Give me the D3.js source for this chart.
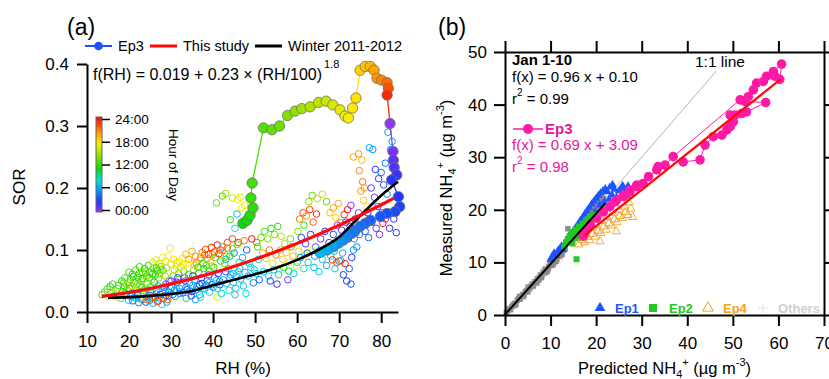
<!DOCTYPE html>
<html><head><meta charset="utf-8">
<script src="https://cdn.jsdelivr.net/npm/d3@7"></script>
<style>
body{margin:0;background:#fff}
svg{display:block;font-family:"Liberation Sans",Arial,Helvetica,sans-serif}
</style></head><body>
<svg id="chart" width="829" height="379"></svg>
<script>
// ---------- Panel (a): SOR vs RH ----------
// Hourly observations, Jan 1-10: [RH %, SOR, hour of day]
const hourlyObs = [
 [13.6,0.028,12],[14.2,0.032,13],[14.8,0.037,12.5],[15.5,0.041,11],[15.9,0.030,14],[16.4,0.026,9],[16.8,0.034,15],[17.3,0.038,13],[17.7,0.029,16],[18.1,0.022,8],
 [18.5,0.033,12],[18.9,0.041,11.5],[19.3,0.027,17],[19.6,0.036,14],[19.9,0.019,7],[16.1,0.045,12],[17.0,0.024,17.5],[18.7,0.047,13],[15.0,0.025,16.5],[19.1,0.031,10],
 [20.3,0.052,12],[20.8,0.061,11.5],[21.2,0.047,13],[21.6,0.068,12.5],[22.1,0.056,11],[22.5,0.073,12],[22.9,0.050,14],[23.3,0.063,12],[23.7,0.070,11],[24.2,0.058,13],
 [24.6,0.075,12.5],[25.0,0.064,11.8],[25.4,0.052,14.5],[25.8,0.071,13.2],[26.3,0.060,12.2],[26.7,0.067,10.8],[27.1,0.055,13.8],[27.5,0.073,12.8],[20.6,0.041,13.5],[21.9,0.044,14.2],
 [23.0,0.040,10.5],[24.4,0.045,15],[26.0,0.048,11.2],
 [20.4,0.025,6],[20.9,0.018,4],[21.4,0.030,17],[21.8,0.022,8],[22.3,0.015,5],[22.7,0.028,19],[23.1,0.020,22],[23.6,0.034,7],[24.0,0.016,3],[24.5,0.026,21],
 [24.9,0.019,23],[25.3,0.031,20],[25.7,0.014,6.5],[26.2,0.024,22.5],[26.6,0.035,5.5],[27.0,0.018,20.5],[27.4,0.028,2],[27.8,0.012,7.5],[28.2,0.022,0.5],[28.6,0.033,4.5],
 [29.0,0.016,6],[29.4,0.026,3.5],[29.8,0.038,8],[21.1,0.036,16],[22.0,0.033,18],[23.4,0.027,16.5],[25.1,0.040,9],[26.9,0.042,6],[28.4,0.040,1],
 [25.6,0.080,16.5],[26.4,0.084,17],[27.2,0.078,16],[28.0,0.088,17.5],[28.7,0.082,16.8],[29.4,0.090,17.2],[30.0,0.077,16.2],[30.6,0.085,17.8],[29.8,0.103,17],[31.3,0.079,18.3],
 [27.6,0.069,15.5],[28.9,0.071,14.8],
 [28.8,0.045,1],[29.5,0.050,0.5],[30.2,0.040,3],[30.8,0.035,5],[31.4,0.048,2.5],[32.0,0.030,4],[32.6,0.042,6],[33.2,0.055,1.5],[33.8,0.036,3.5],[34.4,0.047,5.5],
 [35.0,0.033,2],[35.6,0.052,7],[36.2,0.041,4.5],[36.8,0.028,6.5],[37.4,0.046,3],[38.0,0.037,8],[38.6,0.050,5],[39.2,0.032,7.5],[39.8,0.044,2],[40.4,0.055,6],
 [41.0,0.038,8.5],[41.6,0.049,4],[30.5,0.058,13],[31.8,0.062,12],[33.0,0.066,14],[34.2,0.060,11.5],[35.4,0.068,13.5],[36.6,0.063,12.2],[37.8,0.070,10.5],[39.0,0.066,12.8],
 [40.2,0.072,11.2],[38.4,0.075,13],[31.0,0.025,7],[33.6,0.022,9],[35.8,0.020,6],[37.0,0.024,8],[34.8,0.026,2],[41.0,0.024,17],
 [31.2,0.074,17],[32.0,0.081,16.5],[32.8,0.087,17.5],[33.5,0.093,19],[34.2,0.085,20],[35.0,0.098,19.5],[35.8,0.090,20.5],[36.6,0.084,18.5],[37.4,0.096,21],[38.2,0.101,22],
 [38.9,0.093,23],[39.6,0.104,22.5],[40.3,0.097,21.5],[41.0,0.108,23.5],[41.7,0.100,22],[33.0,0.077,18],[36.0,0.079,21],[38.6,0.086,20],[40.6,0.088,12.5],[39.4,0.080,19],
 [40.8,0.176,13],[42.2,0.187,12.5],[43.0,0.191,14],[44.6,0.184,16],[45.8,0.181,17],[46.5,0.185,16.5],[44.1,0.149,12],[45.2,0.135,8],[45.7,0.158,7],[46.8,0.168,17.2],
 [47.5,0.172,16.8],
 [42.3,0.105,7],[43.0,0.085,6],[43.6,0.070,8],[44.2,0.060,7.5],[44.8,0.048,6.5],[45.4,0.038,7],[46.0,0.065,8],[46.6,0.053,6],[47.2,0.042,7.2],[47.8,0.030,7.8],
 [48.4,0.058,6.8],[49.0,0.072,7.4],[49.6,0.047,5],[50.2,0.062,8.2],[50.8,0.085,7],[47.0,0.088,6.2],[45.0,0.095,5.5],[48.0,0.100,4],[43.4,0.112,22],[44.6,0.118,22.5],
 [46.0,0.112,23],[47.4,0.115,21],[49.2,0.118,23.5],[50.4,0.112,22],[42.8,0.078,13],[44.0,0.090,11],[46.2,0.080,9],
 [50.6,0.105,12],[51.4,0.120,13],[52.2,0.130,12.5],[53.0,0.118,14],[53.8,0.135,11.5],[54.6,0.125,13.5],[55.4,0.138,12],[56.2,0.122,15],[57.0,0.110,14.5],[51.8,0.095,20],
 [52.6,0.086,19],[53.4,0.100,21],[54.2,0.078,18],[55.0,0.092,20.5],[55.8,0.070,17],[56.6,0.085,18.5],[57.4,0.096,16],[58.2,0.080,17.5],[59.0,0.090,19],[59.8,0.074,16.5],
 [52.0,0.065,7],[53.2,0.058,8],[54.4,0.068,6.5],[55.6,0.060,9],[56.8,0.072,10],[58.0,0.066,11],[59.2,0.062,7.5],[60.0,0.080,8.5],[51.0,0.052,4],[53.6,0.050,3],
 [55.2,0.045,2],[57.8,0.052,1],
 [60.6,0.150,21],[61.4,0.160,22],[62.2,0.155,20],[63.0,0.165,22.5],[63.8,0.145,21.5],[64.6,0.158,23],[62.8,0.178,14],[63.6,0.188,13],[64.8,0.183,15],[66.0,0.190,16],
 [67.0,0.178,12.5],[61.0,0.120,3],[62.0,0.110,1],[63.2,0.125,2],[64.4,0.105,4],[65.6,0.118,0.5],[66.6,0.130,2.5],[67.6,0.112,1.5],[68.6,0.125,3],[69.6,0.140,0],
 [70.6,0.132,1],[71.6,0.145,2],[72.6,0.138,0.8],[66.0,0.085,7],[67.0,0.075,6],[68.0,0.090,8],[69.0,0.070,7],[70.0,0.082,5.5],[61.6,0.070,8],[62.6,0.080,9],
 [64.0,0.072,6.5],[65.2,0.065,7.5],[68.4,0.084,23],[69.4,0.080,22],[70.4,0.083,21.5],[71.4,0.078,23.5],[71.0,0.060,3],[71.8,0.050,2.5],[72.4,0.070,4],[72.8,0.045,3.5],
 [73.0,0.088,2],[67.8,0.160,19],[68.6,0.168,20],[69.2,0.152,18.5],[69.8,0.175,19.5],[70.4,0.144,20.5],[73.6,0.118,6],[74.2,0.105,5],[74.8,0.125,4.5],[73.8,0.150,1],
 [74.6,0.160,0.3],[72.0,0.165,23.8],[71.2,0.157,22.8],[72.8,0.172,0.2],
 [73.4,0.250,19.5],[74.6,0.255,20],[75.4,0.245,19],[74.8,0.228,20.5],[75.6,0.210,21],[75.2,0.195,20.2],[76.0,0.200,19.8],[75.8,0.180,18.6],[76.6,0.170,17.5],[77.2,0.265,6],
 [78.0,0.262,5.5],[81.6,0.290,6],[82.6,0.275,5.8],[82.2,0.262,6.3],[78.6,0.230,3],[79.4,0.215,2],[80.0,0.225,4],[80.6,0.205,3.5],[81.0,0.240,4.5],[81.4,0.190,5],
 [77.6,0.200,1],[78.4,0.185,0.5],[79.2,0.170,1.5],[80.2,0.160,0.8],[81.0,0.150,0.2],[76.8,0.160,2.5],[77.8,0.145,3],[78.8,0.135,1.2],[79.6,0.125,0.6],[80.4,0.143,23.8],
 [82.0,0.135,2.2],[83.0,0.150,1.8],[83.6,0.128,2.7],[76.2,0.130,3.5],[77.0,0.120,4.2],
 [17.5,0.043,12.3],[18.3,0.050,11.7],[19.0,0.055,12.9],[19.8,0.047,13.4],[20.0,0.064,12.1],[21.0,0.057,11.3],[21.5,0.050,13.7],[22.4,0.062,12.6],[23.2,0.054,11.1],[23.9,0.065,13.9],
 [24.8,0.055,12.4],[25.6,0.061,10.9],[26.5,0.071,11.6],[27.3,0.062,13.1],[28.1,0.067,12.0],[28.6,0.058,14.1],[19.4,0.044,14.6],[20.1,0.038,11.9],[22.6,0.043,12.8],[24.0,0.038,13.6],
 [20.7,0.030,5.2],[21.3,0.024,6.8],[22.0,0.027,4.2],[22.8,0.021,7.2],[23.5,0.030,5.8],[24.3,0.023,6.4],[25.0,0.027,3.8],[25.8,0.020,7.8],[26.5,0.029,4.8],[27.2,0.023,6.2],
 [28.0,0.031,5.4],[28.8,0.027,3.2],[29.6,0.032,6.6],[30.4,0.028,4.4],[31.2,0.034,7.4],[32.0,0.038,5.6],[32.8,0.031,3.6],[33.6,0.040,6.0],[34.4,0.034,4.6],[35.2,0.043,7.0],
 [36.0,0.036,5.0],[36.8,0.044,3.4],[37.6,0.038,6.4],[38.4,0.043,4.0],[39.2,0.048,6.8],[40.0,0.040,5.2],[40.8,0.051,7.6],[41.6,0.044,3.0],[42.4,0.052,6.2],[43.2,0.046,7.0],
 [44.0,0.055,5.8],[44.8,0.062,6.6],[45.6,0.058,7.4],[46.4,0.070,6.0],[43.8,0.035,8.0],[42.0,0.030,7.8],[45.2,0.028,7.3],[47.6,0.064,6.4],[48.6,0.078,7.6],[49.8,0.068,6.9],
 [24.2,0.020,20.8],[25.5,0.024,21.8],[26.8,0.017,22.8],[28.0,0.026,19.6],[29.2,0.020,21.2],
 [30.0,0.050,0.8],[31.6,0.055,1.8],[33.4,0.050,0.2],[35.2,0.058,2.8],[37.2,0.055,1.4],[39.0,0.060,0.6],[41.2,0.062,2.2],[43.0,0.065,1.0],
 [30.8,0.068,15.8],[32.4,0.072,16.8],[34.0,0.078,17.6],[35.6,0.075,18.8],[37.0,0.088,19.8],[38.0,0.092,21.8],[39.8,0.092,20.8],[41.4,0.094,22.8],[42.2,0.099,20.2],[43.4,0.103,21.4],
 [36.4,0.072,12.6],[37.6,0.078,11.6],[39.6,0.074,13.6],[41.8,0.082,12.2],[43.2,0.090,13.2],[44.6,0.102,12.8],[45.8,0.109,13.6],
 [56.0,0.100,19.8],[58.6,0.105,20.8],[60.4,0.098,15.6],[61.8,0.092,16.6],[63.4,0.100,17.6],[65.0,0.095,18.4],[66.4,0.102,14.6],[58.4,0.118,13.6],[60.2,0.130,14.2],[61.6,0.140,12.4],
 [60.8,0.088,5.6],[62.4,0.095,4.6],[64.2,0.090,5.2],[66.2,0.098,4.8],[68.2,0.105,3.8],[70.2,0.110,3.2],[72.2,0.118,2.6],[74.0,0.128,2.0],[75.6,0.140,1.6],[73.4,0.100,5.4],
 [70.8,0.095,6.4],[68.8,0.098,6.8]
];

// Episode 3 trajectory in time order: [RH %, SOR, hour of day]
const ep3Track = [
 [47.1,0.143,11.0],[48.1,0.148,11.3],[48.8,0.156,11.6],[49.5,0.168,11.9],[49.0,0.184,12.2],[49.3,0.208,12.5],
 [52.0,0.297,12.8],[54.0,0.294,13.1],[55.8,0.300,13.4],[57.7,0.317,13.8],[59.5,0.324,14.2],[61.1,0.328,14.6],
 [63.1,0.331,15.0],[65.1,0.338,15.4],[66.9,0.340,15.8],[68.5,0.334,16.2],[70.2,0.326,16.6],[71.4,0.316,17.0],
 [72.2,0.313,17.3],[73.2,0.329,17.6],[74.0,0.345,17.9],[75.0,0.390,18.3],[76.2,0.396,18.7],[77.4,0.396,19.1],
 [78.3,0.390,19.5],[79.0,0.377,20.0],[80.1,0.374,20.6],[81.4,0.370,21.3],[81.7,0.361,22.0],[81.4,0.350,23.0],
 [82.1,0.304,0.2],[82.8,0.259,0.8],[82.9,0.245,1.2],[83.1,0.233,1.6],[83.7,0.221,2.0],[82.5,0.213,2.3],
 [84.1,0.186,2.6],[84.4,0.170,2.9],[83.3,0.162,3.2],[81.4,0.159,3.4],[79.8,0.154,3.6],[77.4,0.148,3.8],
 [76.2,0.143,4.0],[75.0,0.138,4.2],[73.8,0.132,4.4],[73.0,0.127,4.6],[71.8,0.121,4.9],[71.0,0.116,5.2],
 [69.8,0.111,5.5],[68.6,0.105,5.8],[67.1,0.100,6.2],[65.5,0.096,6.6]
];

// Winter 2011-2012 parameterisation: [RH %, SOR]
const winterCurve = [
 [15,0.023],[20,0.024],[25,0.026],[30,0.029],[35,0.034],[40,0.043],[45,0.052],[50,0.061],
 [55,0.071],[60,0.084],[65,0.100],[70,0.121],[75,0.155],[80,0.188],[84,0.210]
];

// This study: f(RH) = a + b * (RH/100)^c
const fitA = 0.019, fitB = 0.23, fitC = 1.8;
const fitRange = [13.5, 83];

const xTicksA = [10, 20, 30, 40, 50, 60, 70, 80];
const yTicksA = [0.0, 0.1, 0.2, 0.3, 0.4];
const hourTicks = [0, 6, 12, 18, 24];
const hourLabels = ["00:00", "06:00", "12:00", "18:00", "24:00"];

// ---------- Panel (b): measured vs predicted NH4+ ----------
// Jan 1-10, all hours: [predicted, measured]
const janAll = [
 [0.3,0.5],[0.6,0.8],[0.9,1.2],[1.2,1.0],[1.5,1.6],[1.8,1.9],[2.1,2.2],[2.4,2.1],[2.7,2.8],[3.0,3.1],
 [3.3,3.0],[3.6,3.6],[3.9,3.9],[4.2,3.8],[4.5,4.4],[4.8,4.7],[5.1,5.3],[5.4,5.0],[5.7,5.4],[6.0,5.9],
 [6.3,5.8],[6.6,6.3],[6.9,6.4],[7.2,6.9],[7.5,7.0],[7.8,7.6],[8.1,7.5],[8.4,8.1],[8.7,8.0],[9.0,8.6],
 [9.3,8.5],[9.6,9.2],[9.9,9.8],[10.2,9.4],[10.5,10.4],[10.8,10.1],[11.1,11.0],[11.4,10.6],[11.7,11.6],[12.0,11.2],
 [12.3,12.4],[12.6,12.0],[12.9,13.1],[13.2,12.6],[13.5,13.8],[13.8,16.4],[14.1,14.2],[14.4,15.3],[14.7,14.6],[15.0,15.8],
 [15.3,15.0],[15.6,16.3],[15.9,15.5],[16.2,16.9],[16.5,16.0],[16.8,17.4],[17.1,16.8],[17.4,18.0],[17.7,17.2],[18.0,18.6],
 [18.3,19.2],[18.6,18.0],[18.9,19.8],[19.2,20.3],[19.5,19.4],[19.8,20.8],[20.1,21.5],[20.4,20.2],[20.7,21.8],[21.0,22.4],
 [21.3,21.0],[21.6,22.2],[7.0,6.1],[8.0,7.1],[9.5,8.8],[10.6,9.6],[6.2,5.5],[4.0,3.5],[3.2,3.5],[12.5,11.5],
 [2.2,1.8],[5.0,4.4],[7.4,6.6],[9.2,8.2],[11.2,10.2],[8.8,8.7],[10.0,10.3],[11.8,12.0]
];
const others = [
 [0.2,0.3],[0.5,0.4],[0.8,0.9],[1.1,1.3],[1.4,1.2],[1.7,1.9],[2.0,2.3],[2.5,2.4],[3.0,3.3],[3.5,3.4],
 [4.0,4.3],[4.6,4.5],[5.2,5.6],[5.8,5.7],[6.4,6.8],[7.0,7.2],[7.8,8.1],[8.6,8.8],[9.4,9.7],[10.2,10.4],
 [11.0,11.3],[12.0,11.8],[13.0,13.4],[12.5,10.9],[11.5,9.9]
];
const ep1 = [
 [10.0,10.6],[10.4,11.2],[10.8,11.8],[11.2,11.3],[11.6,12.2],[12.0,12.6],[12.4,13.1],[12.8,12.4],[13.2,13.6],[13.6,14.2],
 [14.0,14.8],[14.5,15.3],[15.0,15.9],[15.5,16.6],[16.0,17.2],[16.5,17.9],[17.0,18.5],[17.5,19.2],[18.0,19.8],[18.5,20.4],
 [19.0,21.1],[19.5,21.6],[20.0,22.2],[20.5,22.7],[21.0,23.2],[21.5,23.6],[22.0,24.0],[22.5,23.4],[23.0,24.3],[23.5,22.8],
 [24.0,23.9],[24.5,22.4],[25.0,23.6],[25.5,24.1],[26.0,23.0],[26.5,23.8],[27.0,24.5],[27.4,23.3],[22.8,22.0],[24.2,21.8],
 [21.8,21.5],[20.8,20.9],[19.8,19.6],[23.6,24.8],[25.8,24.6],[26.8,22.6]
];
const ep2 = [
 [13.4,13.8],[13.8,14.5],[14.2,15.0],[14.6,15.6],[15.0,14.8],[15.4,16.2],[15.8,15.4],[16.2,16.8],[16.6,16.0],[17.0,17.4],
 [17.4,16.6],[17.8,18.0],[18.2,17.2],[18.6,18.6],[19.0,17.8],[19.4,19.0],[19.8,18.2],[14.8,13.6],[16.0,14.6],[17.2,15.4],
 [15.7,10.6],[13.0,13.0],[18.4,16.4]
];
const ep4 = [
 [16.2,13.4],[16.8,14.2],[17.4,13.8],[18.0,14.8],[18.6,14.2],[19.2,15.4],[19.8,14.9],[20.4,16.0],[21.0,15.6],[21.6,16.8],
 [22.2,16.2],[22.8,17.4],[23.4,17.0],[24.0,18.2],[24.6,17.6],[25.2,18.8],[25.8,18.4],[26.4,19.6],[27.0,19.0],[27.6,20.2],
 [26.2,20.6],[25.0,20.0],[23.6,19.4],[22.4,18.6],[21.2,17.9],[20.0,17.2],[18.8,16.5],[17.6,15.8],[24.4,15.9],[20.8,14.0],
 [27.2,21.4],[28.0,18.6]
];
// Episode 3 in time order
const ep3 = [
 [17.2,15.0],[17.6,15.8],[18.7,17.1],[20.1,18.4],[21.6,19.6],[23.0,20.6],[24.1,21.5],[24.5,21.9],[26.0,22.5],[26.0,22.8],
 [27.4,23.4],[27.4,23.8],[28.9,24.4],[28.9,24.7],[30.3,25.0],[31.5,26.3],[33.3,27.6],[33.6,28.2],[35.1,28.5],[36.9,30.1],
 [58.9,46.3],[60.7,47.7],[60.3,44.8],[59.2,45.4],[57.4,45.4],[56.7,44.4],[55.2,44.1],[54.5,42.8],[53.4,41.5],[51.6,40.9],
 [52.7,40.6],[57.2,40.4],[53.0,38.6],[51.9,38.3],[50.5,38.0],[49.4,38.0],[50.1,36.7],[49.4,35.8],[48.7,35.2],[47.6,34.2],
 [45.7,33.9],[43.9,32.3],[42.8,29.5],[39.1,29.1]
];
// Linear fits: slope, intercept, r², x-extent
const fitJan = {slope: 0.96, icept: 0.10, r2: 0.99, from: 0, to: 22};
const fitEp3 = {slope: 0.69, icept: 3.09, r2: 0.98, from: 17.5, to: 60.5};

const xTicksB = [0, 10, 20, 30, 40, 50, 60, 70];
const yTicksB = [0, 10, 20, 30, 40, 50];

// ---------- drawing ----------
const svg = d3.select("#chart");
const PINK = "#ff1aa6", PINK_TXT = "#e3189c";
const C_EP1 = "#1f55ff", C_EP2 = "#22c922", C_EP4 = "#f3a322", C_OTH = "#cfcfcf";

const hourColor = d3.scaleLinear()
  .domain([0, 2.5, 5.5, 8, 11, 14.5, 17.5, 20.5, 24])
  .range(["#9933ff", "#2233ff", "#0099ff", "#00e0e0", "#00e000", "#a0e000", "#ffee00", "#ff8800", "#ff0000"])
  .clamp(true);

function styleAxis(g, fs) {
  g.attr("font-family", null).attr("font-size", null);
  g.selectAll("path, line").attr("stroke", "#000").attr("stroke-width", 2);
  g.selectAll("text").attr("fill", "#000").style("font-size", fs + "px");
}

// ---- Panel (a)
const xA = d3.scaleLinear().domain([10, 84]).range([87, 398]);
const yA = d3.scaleLinear().domain([0, 0.4]).range([312, 64]);

const gA = svg.append("g");

// hourly observation circles
gA.append("g").selectAll("circle").data(hourlyObs).join("circle")
  .attr("cx", d => xA(d[0])).attr("cy", d => yA(d[1])).attr("r", 3.3)
  .attr("fill", "none").attr("stroke", d => hourColor(d[2])).attr("stroke-width", 1);

// Episode 3 path, each leg coloured by its starting hour
const ep3Legs = d3.pairs(ep3Track);
gA.append("g").selectAll("line").data(ep3Legs).join("line")
  .attr("x1", d => xA(d[0][0])).attr("y1", d => yA(d[0][1]))
  .attr("x2", d => xA(d[1][0])).attr("y2", d => yA(d[1][1]))
  .attr("stroke", d => hourColor(d[0][2])).attr("stroke-width", 1.3);
gA.append("g").selectAll("circle").data(ep3Track).join("circle")
  .attr("cx", d => xA(d[0])).attr("cy", d => yA(d[1])).attr("r", 5.2)
  .attr("fill", d => hourColor(d[2])).attr("stroke", "#707070").attr("stroke-width", 0.8);

// fitted curves
const fitRH = d3.range(fitRange[0], fitRange[1] + 0.01, 0.5);
const fitPts = fitRH.map(rh => [rh, fitA + fitB * Math.pow(rh / 100, fitC)]);
const lineA = d3.line().x(d => xA(d[0])).y(d => yA(d[1]));
gA.append("path").datum(winterCurve).attr("d", lineA.curve(d3.curveMonotoneX))
  .attr("fill", "none").attr("stroke", "#000").attr("stroke-width", 2.6);
gA.append("path").datum(fitPts).attr("d", d3.line().x(d => xA(d[0])).y(d => yA(d[1])))
  .attr("fill", "none").attr("stroke", "#ff0a0a").attr("stroke-width", 3.2);

// axes
gA.append("g").attr("transform", "translate(0,312)")
  .call(d3.axisBottom(xA).tickValues(xTicksA).tickSizeInner(11).tickSizeOuter(0).tickPadding(12))
  .call(g => styleAxis(g, 17));
gA.append("g").attr("transform", "translate(87,0)")
  .call(d3.axisLeft(yA).tickValues(yTicksA).tickFormat(d3.format(".1f")).tickSizeInner(10).tickSizeOuter(0).tickPadding(8))
  .call(g => styleAxis(g, 17));

gA.append("text").attr("x", 243).attr("y", 374).attr("text-anchor", "middle")
  .style("font-size", "17px").text("RH (%)");
gA.append("text").attr("transform", "translate(25,187) rotate(-90)").attr("text-anchor", "middle")
  .style("font-size", "17px").text("SOR");
gA.append("text").attr("x", 67).attr("y", 35).style("font-size", "23px").text("(a)");

// legend
const legA = gA.append("g").style("font-size", "14.5px");
legA.append("line").attr("x1", 85).attr("x2", 112).attr("y1", 46).attr("y2", 46)
  .attr("stroke", "#1f4fff").attr("stroke-width", 2);
legA.append("circle").attr("cx", 98.5).attr("cy", 46).attr("r", 4.3).attr("fill", "#1f4fff");
legA.append("text").attr("x", 118).attr("y", 51).text("Ep3");
legA.append("line").attr("x1", 150).attr("x2", 177).attr("y1", 46).attr("y2", 46)
  .attr("stroke", "#ff0a0a").attr("stroke-width", 3);
legA.append("text").attr("x", 183).attr("y", 51).text("This study");
legA.append("line").attr("x1", 255).attr("x2", 282).attr("y1", 46).attr("y2", 46)
  .attr("stroke", "#000").attr("stroke-width", 3);
legA.append("text").attr("x", 288).attr("y", 51).text("Winter 2011-2012");

// formula
const fmt = gA.append("text").attr("x", 93).attr("y", 80).style("font-size", "16px");
fmt.append("tspan").text(`f(RH) = ${fitA} + ${fitB} × (RH/100)`);
fmt.append("tspan").attr("dy", -12).attr("dx", 2).style("font-size", "11px").text(fitC.toFixed(1));

// hour-of-day colour bar
const cbY = d3.scaleLinear().domain([0, 24]).range([210, 119]);
const grad = svg.append("defs").append("linearGradient").attr("id", "hourGrad")
  .attr("x1", 0).attr("y1", 1).attr("x2", 0).attr("y2", 0);
d3.range(0, 24.01, 1).forEach(h => grad.append("stop")
  .attr("offset", h / 24).attr("stop-color", hourColor(h)));
gA.append("rect").attr("x", 96).attr("y", cbY(24) - 2).attr("width", 6)
  .attr("height", cbY(0) - cbY(24) + 4).attr("fill", "url(#hourGrad)")
  .attr("stroke", "#666").attr("stroke-width", 1);
gA.append("g").attr("transform", "translate(102,0)")
  .call(d3.axisRight(cbY).tickValues(hourTicks).tickFormat((d, i) => hourLabels[i])
    .tickSizeInner(8).tickSizeOuter(0).tickPadding(5))
  .call(g => { styleAxis(g, 13.5); g.select(".domain").remove();
               g.selectAll("line").attr("stroke-width", 1.5); });
gA.append("text").attr("transform", "translate(169,129) rotate(90)")
  .style("font-size", "13.5px").text("Hour of Day");

// ---- Panel (b)
const xB = d3.scaleLinear().domain([0, 70]).range([505, 824]);
const yB = d3.scaleLinear().domain([0, 50]).range([315, 52]);
const gB = svg.append("g");

// 1:1 reference
gB.append("line").attr("x1", xB(0)).attr("y1", yB(0)).attr("x2", xB(50)).attr("y2", yB(50))
  .attr("stroke", "#b4b4b4").attr("stroke-width", 1);

const plus = "M-3.5,0H3.5M0,-3.5V3.5";
gB.append("g").selectAll("path").data(others).join("path")
  .attr("transform", d => `translate(${xB(d[0])},${yB(d[1])})`).attr("d", plus)
  .attr("stroke", "#dedede").attr("stroke-width", 1).attr("fill", "none");
gB.append("g").selectAll("path").data(janAll).join("path")
  .attr("transform", d => `translate(${xB(d[0])},${yB(d[1])})`)
  .attr("d", d3.symbol(d3.symbolSquare, 30)).attr("fill", "#8c8c8c");
gB.append("g").selectAll("path").data(ep1).join("path")
  .attr("transform", d => `translate(${xB(d[0])},${yB(d[1])})`)
  .attr("d", d3.symbol(d3.symbolTriangle, 30)).attr("fill", C_EP1);
gB.append("g").selectAll("path").data(ep2).join("path")
  .attr("transform", d => `translate(${xB(d[0])},${yB(d[1])})`)
  .attr("d", d3.symbol(d3.symbolSquare, 36)).attr("fill", C_EP2);
gB.append("g").selectAll("path").data(ep4).join("path")
  .attr("transform", d => `translate(${xB(d[0])},${yB(d[1])})`)
  .attr("d", d3.symbol(d3.symbolTriangle, 30)).attr("fill", "none")
  .attr("stroke", C_EP4).attr("stroke-width", 0.9);

const lineB = d3.line().x(d => xB(d[0])).y(d => yB(d[1]));
gB.append("path").datum(ep3).attr("d", lineB).attr("fill", "none")
  .attr("stroke", PINK).attr("stroke-width", 1);
gB.append("g").selectAll("circle").data(ep3).join("circle")
  .attr("cx", d => xB(d[0])).attr("cy", d => yB(d[1])).attr("r", 4.8).attr("fill", PINK);

// fit lines
[[fitJan, "#000", 2], [fitEp3, "#ff0a0a", 2.2]].forEach(([f, c, w]) => {
  gB.append("path").datum([f.from, f.to].map(x => [x, f.slope * x + f.icept]))
    .attr("d", lineB).attr("stroke", c).attr("stroke-width", w).attr("fill", "none");
});

// axes / frame
gB.append("g").attr("transform", "translate(0,315)")
  .call(d3.axisBottom(xB).tickValues(xTicksB).tickSizeInner(11).tickSizeOuter(0).tickPadding(11))
  .call(g => styleAxis(g, 17));
gB.append("g").attr("transform", "translate(0,52)")
  .call(d3.axisTop(xB).tickValues(xTicksB).tickSizeInner(11).tickSizeOuter(0).tickFormat(""))
  .call(g => styleAxis(g, 17));
gB.append("g").attr("transform", "translate(505,0)")
  .call(d3.axisLeft(yB).tickValues(yTicksB).tickSizeInner(11).tickSizeOuter(0).tickPadding(7))
  .call(g => styleAxis(g, 17));
gB.append("g").attr("transform", "translate(824,0)")
  .call(d3.axisRight(yB).tickValues(yTicksB).tickSizeInner(11).tickSizeOuter(0).tickFormat(""))
  .call(g => styleAxis(g, 17));

// 1:1 label with a white backing
gB.append("rect").attr("x", 693).attr("y", 54).attr("width", 56).attr("height", 17).attr("fill", "#fff");
gB.append("text").attr("x", 695).attr("y", 67).style("font-size", "15.5px").text("1:1 line");

// fit annotations
const note = gB.append("g").style("font-size", "15px");
note.append("text").attr("x", 512).attr("y", 65).style("font-weight", "bold").text("Jan 1-10");
note.append("text").attr("x", 512).attr("y", 82)
  .text(`f(x) = ${fitJan.slope.toFixed(2)} x + ${fitJan.icept.toFixed(2)}`);
const r1 = note.append("text").attr("x", 512).attr("y", 104);
r1.append("tspan").text("r");
r1.append("tspan").attr("dy", -8).style("font-size", "10px").text("2");
r1.append("tspan").attr("dy", 8).text(` = ${fitJan.r2.toFixed(2)}`);

note.append("line").attr("x1", 513).attr("x2", 543).attr("y1", 129).attr("y2", 129)
  .attr("stroke", PINK).attr("stroke-width", 1.5);
note.append("circle").attr("cx", 528).attr("cy", 129).attr("r", 5).attr("fill", PINK);
note.append("text").attr("x", 545).attr("y", 134).attr("fill", PINK_TXT)
  .style("font-weight", "bold").text("Ep3");
note.append("text").attr("x", 512).attr("y", 150).attr("fill", PINK_TXT)
  .text(`f(x) = ${fitEp3.slope.toFixed(2)} x + ${fitEp3.icept.toFixed(2)}`);
const r2 = note.append("text").attr("x", 512).attr("y", 172).attr("fill", PINK_TXT);
r2.append("tspan").text("r");
r2.append("tspan").attr("dy", -8).style("font-size", "10px").text("2");
r2.append("tspan").attr("dy", 8).text(` = ${fitEp3.r2.toFixed(2)}`);

// bottom legend
const legB = gB.append("g").style("font-size", "13px").style("font-weight", "bold");
legB.append("path").attr("transform", "translate(600,308)")
  .attr("d", d3.symbol(d3.symbolTriangle, 50)).attr("fill", C_EP1);
legB.append("text").attr("x", 615).attr("y", 313).attr("fill", C_EP1).text("Ep1");
legB.append("path").attr("transform", "translate(653,308)")
  .attr("d", d3.symbol(d3.symbolSquare, 64)).attr("fill", C_EP2);
legB.append("text").attr("x", 669).attr("y", 313).attr("fill", C_EP2).text("Ep2");
legB.append("path").attr("transform", "translate(708,308)")
  .attr("d", d3.symbol(d3.symbolTriangle, 50)).attr("fill", "none")
  .attr("stroke", C_EP4).attr("stroke-width", 1);
legB.append("text").attr("x", 723).attr("y", 313).attr("fill", C_EP4).text("Ep4");
legB.append("path").attr("transform", "translate(763,308)").attr("d", "M-5,0H5M0,-5V5")
  .attr("stroke", "#e2e2e2").attr("stroke-width", 1);
legB.append("text").attr("x", 778).attr("y", 313).attr("fill", C_OTH).text("Others");

// axis titles
const xt = gB.append("text").attr("x", 578).attr("y", 374).style("font-size", "16.5px");
xt.append("tspan").text("Predicted NH");
xt.append("tspan").attr("dy", 4).style("font-size", "11px").text("4");
xt.append("tspan").attr("dy", -12).style("font-size", "11px").text("+");
xt.append("tspan").attr("dy", 8).text(" (µg m");
xt.append("tspan").attr("dy", -8).style("font-size", "11px").text("-3");
xt.append("tspan").attr("dy", 8).text(")");

const yt = gB.append("text").attr("transform", "translate(452,188) rotate(-90)")
  .attr("text-anchor", "middle").style("font-size", "16.5px");
yt.append("tspan").text("Measured NH");
yt.append("tspan").attr("dy", 4).style("font-size", "11px").text("4");
yt.append("tspan").attr("dy", -12).style("font-size", "11px").text("+");
yt.append("tspan").attr("dy", 8).text(" (µg m");
yt.append("tspan").attr("dy", -8).style("font-size", "11px").text("-3");
yt.append("tspan").attr("dy", 8).text(")");

gB.append("text").attr("x", 438).attr("y", 35).style("font-size", "23px").text("(b)");
</script>
</body></html>
